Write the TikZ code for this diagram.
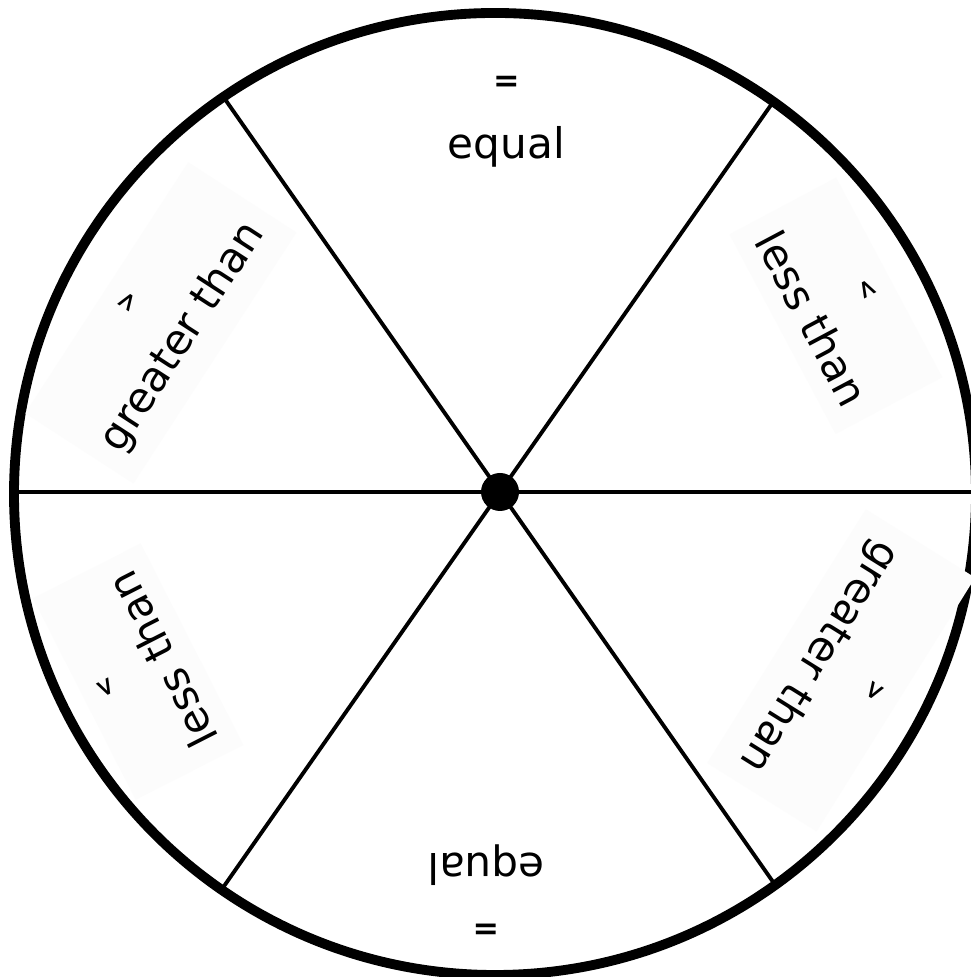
\documentclass[tikz,border=0pt]{standalone}
\usepackage{fontspec}
\setmainfont{DejaVu Sans}
\usetikzlibrary{calc}
\newcommand{\opsym}{\fontsize{9}{10}\selectfont\bfseries}
\newcommand{\cmpsym}{\fontsize{7}{8}\selectfont\bfseries}

\begin{document}
\begin{tikzpicture}

     \tikzstyle{every node}=[font=\fontsize{12}{14}\selectfont]
     \tikzstyle{label}=[align=center,fill=black!1,inner sep=5pt,minimum width=2.2cm,minimum height=1.19cm]
     \tikzstyle{spoke}=[line width=1.1pt]
     \useasboundingbox (0,0) rectangle (9.70,9.77);
     \fill[white] (0,0) rectangle (9.70,9.77);
     \coordinate (o) at (5.00,4.85);
     \coordinate (c) at (4.95,4.83);
     \coordinate (r0) at ($(o)+(0:4.76)$);
     \coordinate (r55) at ($(o)+(55:4.77)$);
     \coordinate (r125) at ($(o)+(125:4.82)$);
     \coordinate (r180) at ($(o)+(180:4.86)$);
     \coordinate (r235) at ($(o)+(235:4.85)$);
     \coordinate (r305) at ($(o)+(305:4.80)$);
     \path[spoke](o)edge(r0)edge(r55)edge(r125);
     \path[spoke](o)edge(r180)edge(r235)edge(r305);
     \draw[line width=2.8pt](c) circle (4.81);
     \fill(o) circle (0.19);

     \node at ($(o)+(89:3.70)$)[label,fill=none](eqtop){{\opsym =}\\[5pt]equal};
     \node at ($(o)+(29:3.84)$)[label,rotate=-62](lessright){{\cmpsym <}\\[6pt]less than};
     \node at ($(o)+(153.5:3.79)$)[label,rotate=57](greatleft){{\cmpsym >}\\[6pt]greater than};
     \node at ($(o)+(206.4:4.04)$)[label,rotate=117](lessleft){{\cmpsym <}\\[6pt]less than};
     \node at ($(o)+(-27.6:3.85)$)[label,rotate=-122](greatright){{\cmpsym >}\\[6pt]greater than};
     \node at ($(o)+(-92:3.98)$)[label,fill=none,rotate=180](eqbottom){{\opsym =}\\[5pt]equal};

\end{tikzpicture}
\end{document}
